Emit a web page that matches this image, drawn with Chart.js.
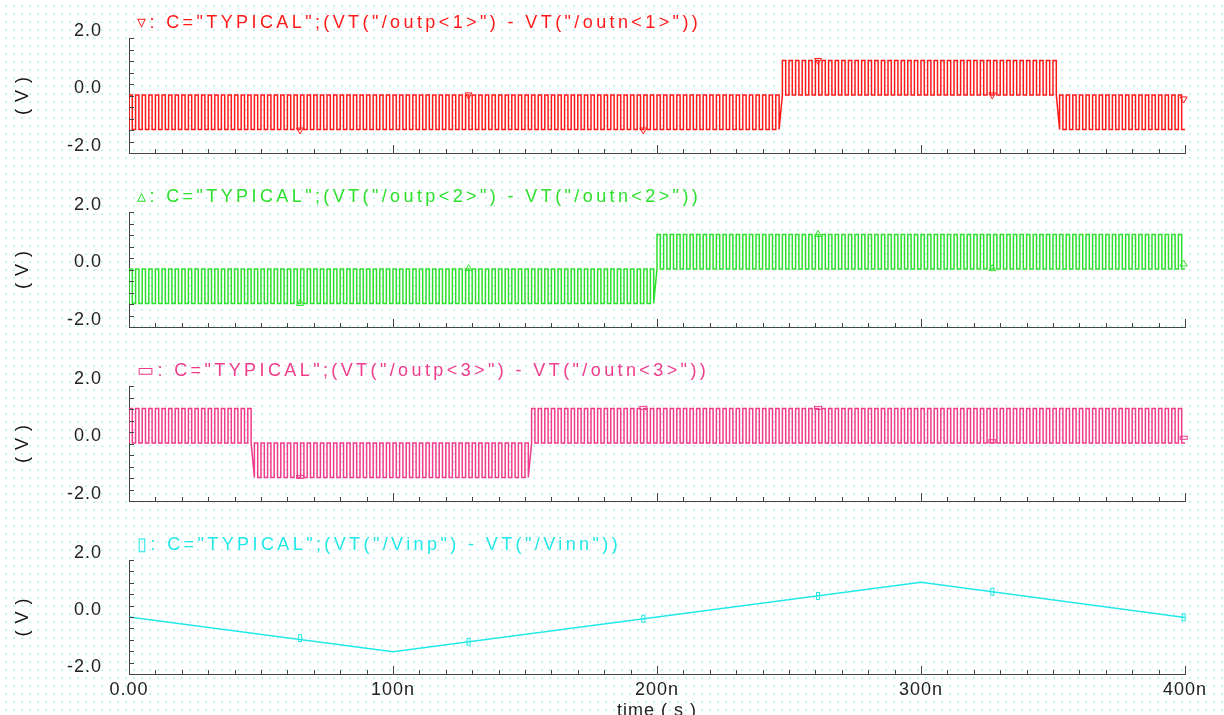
<!DOCTYPE html>
<html>
<head>
<meta charset="utf-8">
<script src="https://cdn.jsdelivr.net/npm/chart.js@4.4.1/dist/chart.umd.min.js"></script>
<style>
html,body{margin:0;padding:0;width:1224px;height:715px;overflow:hidden;background-color:#ffffff;
background-image:radial-gradient(circle,#cdf1f1 0,#cdf1f1 0.8px,rgba(255,255,255,0) 1.3px);
background-size:8px 8px;background-position:2px 2px;}
canvas{position:absolute;left:0;}
</style>
</head>
<body>
<canvas id="p1" width="1224" height="193" style="top:0px"></canvas>
<canvas id="p2" width="1224" height="193" style="top:174px"></canvas>
<canvas id="p3" width="1224" height="193" style="top:348px"></canvas>
<canvas id="p4" width="1224" height="200" style="top:522px"></canvas>
<script>
// ---------- data ----------
const timeRangeNs = [0, 400];
const clockPeriodNs = 2.5;
const yRange = [-2, 2];
const xTickLabels = ['0.00', '100n', '200n', '300n', '400n'];
const yTickLabels = ['-2.0', '0.0', '2.0'];

// comparator outputs: regime start times (ns) and low/high level of the toggling in each regime
const out1SegStart = [0, 247.7, 351.5];
const out1SegLo    = [-1.18, 0.02, -1.18];
const out1SegHi    = [0.02, 1.22, 0.02];

const out2SegStart = [0, 200];
const out2SegLo    = [-1.18, 0.02];
const out2SegHi    = [0.02, 1.22];

const out3SegStart = [0, 48.5, 152.3];
const out3SegLo    = [0.02, -1.18, 0.02];
const out3SegHi    = [1.22, 0.02, 1.22];

// differential input (triangle)
const vinTimes  = [0, 100, 300, 400];
const vinValues = [0.0, -1.22, 1.22, -0.02];

// marker symbols on each trace
const markerTimes      = [64.8, 128.6, 194.8, 261, 327, 399.5];
const out1MarkerValues = [-1.2, 0.02, -1.2, 1.22, 0.02, -0.12];
const out2MarkerValues = [-1.18, 0.03, null, 1.22, 0.03, 0.19];
const out3MarkerValues = [-1.16, null, 1.24, 1.24, 0.08, 0.2];
const vinMarkerValues  = [-0.74, -0.87, -0.06, 0.74, 0.89, -0.01];

const titles = [
  '\u25BF: C="TYPICAL";(VT("/outp<1>") - VT("/outn<1>"))',
  '\u25B5: C="TYPICAL";(VT("/outp<2>") - VT("/outn<2>"))',
  '\u25AD: C="TYPICAL";(VT("/outp<3>") - VT("/outn<3>"))',
  '\u25AF: C="TYPICAL";(VT("/Vinp") - VT("/Vinn"))'
];
const colors = ['#ff1a1a', '#2ee02e', '#f03c8c', '#22e8e8'];

// ---------- helpers ----------
const FONT = "'Liberation Sans', Arial, sans-serif";
const AXIS = '#444444';
const PLOT_TOP = 38;      // plot top inside each canvas
const PANEL_H = 115;      // plot height

function buildToggle(starts, lo, hi) {
  const pts = [];
  const n = Math.round((timeRangeNs[1] - timeRangeNs[0]) / clockPeriodNs);
  for (let k = 0; k < n; k++) {
    const t0 = timeRangeNs[0] + k * clockPeriodNs;
    const tm = t0 + clockPeriodNs / 2;
    let s = 0;
    for (let j = 0; j < starts.length; j++) if (tm >= starts[j]) s = j;
    pts.push({x: t0, y: lo[s]}, {x: t0, y: hi[s]}, {x: tm, y: hi[s]}, {x: tm, y: lo[s]});
  }
  const last = starts.length - 1;
  pts.push({x: timeRangeNs[1], y: lo[last]});
  return pts;
}
function zipXY(xs, ys) {
  const out = [];
  xs.forEach((x, i) => { if (ys[i] !== null) out.push({x: x, y: ys[i]}); });
  return out;
}
function boxSymbol(w, h, color) {
  const c = document.createElement('canvas');
  c.width = w + 2; c.height = h + 2;
  const g = c.getContext('2d');
  g.strokeStyle = color; g.lineWidth = 1;
  g.strokeRect(1.5, 1.5, w - 1, h - 1);
  return c;
}

const cadencePlugin = {
  id: 'cadence',
  beforeDraw(chart) { chart.ctx.letterSpacing = '1px'; },
  afterDatasetsDraw(chart) {
    const {ctx, chartArea: a, scales: {x, y}} = chart;
    ctx.save();
    ctx.strokeStyle = AXIS; ctx.lineWidth = 1;
    ctx.beginPath();
    for (let i = 0; i <= 10; i++) {
      const py = Math.round(y.getPixelForValue(yRange[0] + i * 0.4)) + 0.5;
      ctx.moveTo(a.left, py); ctx.lineTo(a.left + 5, py);
    }
    for (let i = 1; i <= 40; i++) {
      const px = Math.round(x.getPixelForValue(i * 10)) + 0.5;
      const len = (i % 10 === 0) ? 8 : 4;
      ctx.moveTo(px, a.bottom); ctx.lineTo(px, a.bottom - len);
    }
    ctx.stroke();
    ctx.restore();
  },
  afterDraw(chart, args, opts) {
    const {ctx, chartArea: a} = chart;
    ctx.save();
    ctx.letterSpacing = '3.4px';
    ctx.font = '18px ' + FONT;
    ctx.fillStyle = opts.color;
    ctx.textBaseline = 'alphabetic';
    ctx.textAlign = 'left';
    ctx.fillText(opts.text, 137, a.top - 10);
    ctx.restore();
  }
};

function makePanel(id, idx, datasets, isBottom) {
  const canvasH = document.getElementById(id).height;
  const plotBottom = PLOT_TOP + PANEL_H - (isBottom ? 1 : 0);
  return new Chart(document.getElementById(id), {
    type: 'line',
    data: {datasets: datasets},
    plugins: [cadencePlugin],
    options: {
      responsive: false,
      animation: false,
      devicePixelRatio: 1,
      events: [],
      layout: {padding: {top: PLOT_TOP, right: 39, left: 0, bottom: 0}},
      plugins: {
        legend: {display: false},
        tooltip: {enabled: false},
        cadence: {text: titles[idx], color: colors[idx]}
      },
      scales: {
        x: {
          type: 'linear',
          min: timeRangeNs[0], max: timeRangeNs[1],
          grid: {display: false, drawTicks: false},
          border: {display: true, color: AXIS, width: 1},
          ticks: {
            display: isBottom,
            stepSize: 100,
            autoSkip: false,
            maxRotation: 0,
            padding: 5,
            color: '#222222',
            font: {family: FONT, size: 18},
            callback: (v, i) => xTickLabels[i]
          },
          title: {
            display: isBottom, text: 'time ( s )', color: '#222222',
            font: {family: FONT, size: 18}, padding: {top: 0, bottom: 0}
          },
          afterFit: s => { s.height = canvasH - plotBottom; }
        },
        y: {
          type: 'linear',
          min: yRange[0], max: yRange[1],
          grid: {display: false, drawTicks: false},
          border: {display: true, color: AXIS, width: 1},
          ticks: {
            stepSize: 2,
            autoSkip: false,
            padding: 27,
            labelOffset: -7,
            color: '#222222',
            font: {family: FONT, size: 18},
            callback: (v, i) => yTickLabels[i]
          },
          title: {
            display: true, text: '( V )', color: '#111111',
            font: {family: FONT, size: 18}, padding: {top: 12, bottom: 0}
          },
          afterFit: s => { s.width = 129; }
        }
      }
    }
  });
}

function waveSet(points, color) {
  return {data: points, borderColor: color, borderWidth: 1.5, pointRadius: 0, tension: 0, fill: false};
}
function markerSet(points, color, style, rotation) {
  return {data: points, showLine: false, borderColor: color, backgroundColor: 'rgba(0,0,0,0)',
    pointStyle: style, pointRotation: rotation || 0, pointRadius: 4, pointBorderWidth: 1, clip: false};
}

makePanel('p1', 0, [
  waveSet(buildToggle(out1SegStart, out1SegLo, out1SegHi), colors[0]),
  markerSet(zipXY(markerTimes, out1MarkerValues), colors[0], 'triangle', 180)
], false);
makePanel('p2', 1, [
  waveSet(buildToggle(out2SegStart, out2SegLo, out2SegHi), colors[1]),
  markerSet(zipXY(markerTimes, out2MarkerValues), colors[1], 'triangle', 0)
], false);
makePanel('p3', 2, [
  waveSet(buildToggle(out3SegStart, out3SegLo, out3SegHi), colors[2]),
  markerSet(zipXY(markerTimes, out3MarkerValues), colors[2], boxSymbol(8, 4, colors[2]))
], false);
makePanel('p4', 3, [
  waveSet(zipXY(vinTimes, vinValues), colors[3]),
  markerSet(zipXY(markerTimes, vinMarkerValues), colors[3], boxSymbol(4, 8, colors[3]))
], true);
</script>
</body>
</html>
